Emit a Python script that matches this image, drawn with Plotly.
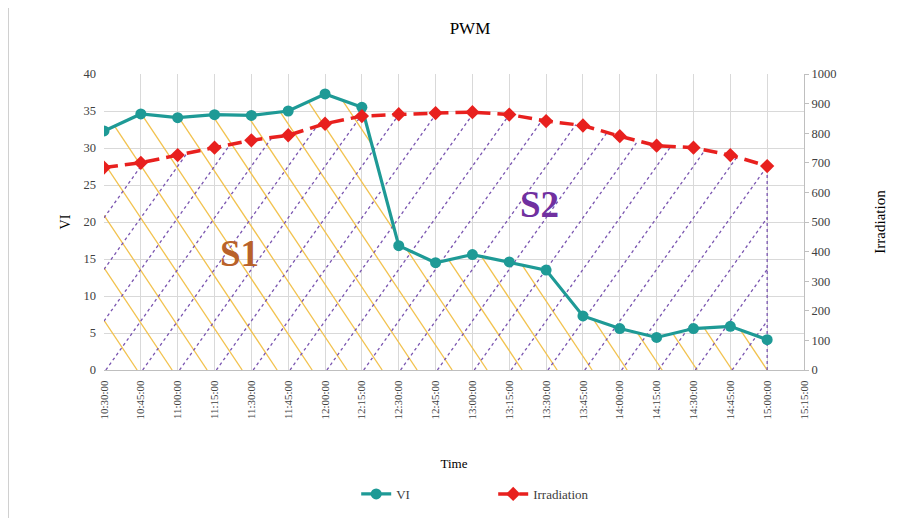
import plotly.graph_objects as go

# ---------------- data ----------------
time_labels = ["10:30:00", "10:45:00", "11:00:00", "11:15:00", "11:30:00", "11:45:00",
               "12:00:00", "12:15:00", "12:30:00", "12:45:00", "13:00:00", "13:15:00",
               "13:30:00", "13:45:00", "14:00:00", "14:15:00", "14:30:00", "14:45:00",
               "15:00:00", "15:15:00"]
vi_values = [32.3, 34.6, 34.1, 34.5, 34.4, 35.0, 37.3, 35.5, 16.8, 14.5,
             15.6, 14.6, 13.5, 7.3, 5.6, 4.4, 5.6, 5.9, 4.1]
irradiation_values = [684, 700, 726, 751, 776, 793, 832, 858, 864, 868,
                      871, 863, 841, 826, 790, 758, 751, 726, 689]

# ---------------- geometry ----------------
# (page body has an 8px margin, so the figure is sized/offset accordingly)
W, H = 913, 510
ML, MR, MT, MB = 96, 117, 66, 148
PW, PH = W - ML - MR, H - MT - MB
X_MAX = len(time_labels) - 1          # axis runs to the last label
Y_MAX, Y2_MAX = 40, 1000
px_per_x = PW / X_MAX
px_per_y = PH / Y_MAX
irr_to_y = Y_MAX / Y2_MAX             # convert irradiation to VI-axis units

xs = list(range(len(vi_values)))
x_end = xs[-1]


def f_interp(xp, fp, x):
    for i in range(len(xp) - 1):
        if xp[i] <= x <= xp[i + 1]:
            t = (x - xp[i]) / (xp[i + 1] - xp[i])
            return fp[i] + t * (fp[i + 1] - fp[i])
    return fp[-1] if x > xp[-1] else fp[0]


def hatch(curve, slope, x0, xlo, xhi):
    """Segments of the line y = slope*(x-x0) lying in 0<=y<=curve(x)."""
    if xhi <= xlo:
        return []
    L = lambda x: slope * (x - x0)
    pts = [xlo] + [x for x in xs if xlo < x < xhi] + [xhi]
    segs = []
    for a, b in zip(pts[:-1], pts[1:]):
        ga = f_interp(xs, curve, a) - L(a)
        gb = f_interp(xs, curve, b) - L(b)
        if ga >= 0 and gb >= 0:
            seg = [a, b]
        elif ga < 0 and gb < 0:
            continue
        else:
            r = a + (b - a) * ga / (ga - gb)
            seg = [a, r] if ga >= 0 else [r, b]
        if segs and abs(segs[-1][1] - seg[0]) < 1e-9:
            segs[-1][1] = seg[1]
        else:
            segs.append(seg)
    return [(s[0], L(s[0]), s[1], L(s[1])) for s in segs if s[1] - s[0] > 1e-6]


def to_xy(seglist):
    X, Y = [], []
    for (xa, ya, xb, yb) in seglist:
        X += [xa, xb, None]
        Y += [ya, yb, None]
    return X, Y


irr_in_y = [v * irr_to_y for v in irradiation_values]

# purple "/" hatch under irradiation curve
p_slope = 1.4 * px_per_x / px_per_y
p_segs = []
for k in range(-12, 19):
    x0 = k + 0.05
    p_segs += hatch(irr_in_y, p_slope, x0, max(0, x0), x_end)
px_, py_ = to_xy(p_segs)
# closing vertical at the last data point
px_ += [x_end, x_end, None]
py_ += [0, irr_in_y[-1], None]

# yellow "\" hatch under VI curve
y_slope = -1.5 * px_per_x / px_per_y
y_sp = 0.95
y_segs = []
for k in range(-2, 40):
    x0 = x_end - k * y_sp
    y_segs += hatch(vi_values, y_slope, x0, 0, min(x_end, x0))
yx_, yy_ = to_xy(y_segs)

SERIF = "Liberation Serif, Times New Roman, serif"
GRID = "#D9D9D9"

fig = go.Figure()
fig.add_trace(go.Scatter(x=yx_, y=yy_, mode="lines", showlegend=False, hoverinfo="skip",
                         line=dict(color="#F2C24E", width=1.3)))
fig.add_trace(go.Scatter(x=px_, y=py_, mode="lines", showlegend=False, hoverinfo="skip",
                         line=dict(color="#7A55B0", width=1.3, dash="3px,3px")))
fig.add_trace(go.Scatter(x=xs, y=vi_values, name="VI", mode="lines+markers",
                         line=dict(color="#1E9A96", width=3.2),
                         marker=dict(symbol="circle", size=11, color="#1E9A96")))
fig.add_trace(go.Scatter(x=xs, y=irradiation_values, name="Irradiation", yaxis="y2",
                         mode="lines+markers",
                         line=dict(color="#E8201E", width=3.5, dash="14px,7px"),
                         marker=dict(symbol="diamond", size=11, color="#E8201E")))

fig.update_layout(
    width=W, height=H,
    margin=dict(l=ML, r=MR, t=MT, b=MB, autoexpand=False),
    paper_bgcolor="white", plot_bgcolor="white",
    font=dict(family=SERIF, size=11, color="#404040"),
    title=dict(text="PWM", x=0.506, xanchor="center", y=0.961, yanchor="middle",
               font=dict(family=SERIF, size=17, color="#000000")),
    xaxis=dict(range=[0, X_MAX], tickmode="array", tickvals=list(range(len(time_labels))),
               ticktext=time_labels, tickangle=-90, showgrid=True, gridcolor=GRID,
               zeroline=False, showline=True, linecolor="#BFBFBF", linewidth=1,
               ticks="", automargin=False, ticklabelstandoff=5,
               tickfont=dict(family=SERIF, size=11, color="#404040"),
               title=dict(text="Time", standoff=40,
                          font=dict(family=SERIF, size=13, color="#000000"))),
    yaxis=dict(range=[0, Y_MAX], tickmode="linear", tick0=0, dtick=5, showgrid=True,
               gridcolor=GRID, zeroline=False, showline=False, ticks="", automargin=False,
               ticklabelstandoff=7,
               tickfont=dict(family=SERIF, size=12.5, color="#404040"),
               title=dict(text="VI", standoff=9,
                          font=dict(family=SERIF, size=14, color="#000000"))),
    yaxis2=dict(range=[0, Y2_MAX], overlaying="y", side="right", tickmode="linear",
                tick0=0, dtick=100, showgrid=False, zeroline=False, showline=True,
                linecolor="#BFBFBF", ticks="outside", ticklen=4, tickcolor="#BFBFBF",
                automargin=False,
                tickfont=dict(family=SERIF, size=12.5, color="#404040"),
                title=dict(text="Irradiation", standoff=38,
                           font=dict(family=SERIF, size=15, color="#000000"))),
    legend=dict(orientation="h", x=0.556, xanchor="center", y=-0.419, yanchor="middle",
                font=dict(family=SERIF, size=13, color="#404040"),
                entrywidth=92, entrywidthmode="pixels", bgcolor="rgba(0,0,0,0)"),
    annotations=[
        dict(text="<b>S1</b>", x=3.69, y=15.8, xref="x", yref="y", showarrow=False,
             font=dict(family=SERIF, size=37, color="#B9622A")),
        dict(text="<b>S2</b>", x=11.83, y=22.3, xref="x", yref="y", showarrow=False,
             font=dict(family=SERIF, size=37, color="#7030A0")),
    ],
    shapes=[dict(type="line", xref="paper", yref="paper",
                 x0=(0.5 - ML) / PW, x1=(0.5 - ML) / PW, y0=-MB / PH, y1=1 + MT / PH,
                 line=dict(color="#D0D0D0", width=1))],
)

fig.write_html("out.html")
